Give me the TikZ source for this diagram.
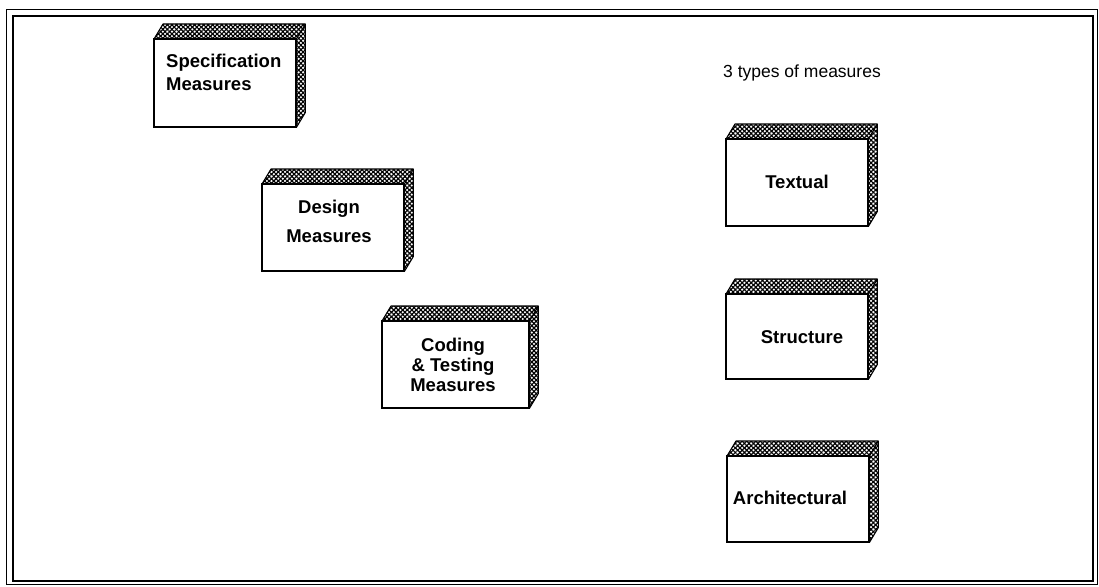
\documentclass[tikz,border=0pt]{standalone}
\usepackage{fontspec}
\setmainfont{Liberation Sans}
\usetikzlibrary{patterns.meta}
\begin{document}
\begin{tikzpicture}[x=1pt,y=-1pt,
  face/.style={draw=black, line width=1.4pt, fill=white, inner sep=0pt},
  hatchA/.style={pattern={Lines[angle=45,distance=3.2pt,line width=1.2pt]}},
  hatchB/.style={pattern={Lines[angle=-45,distance=3.2pt,line width=1.2pt]}},
  lbl/.style={font=\bfseries\fontsize{18.5}{21}\selectfont, inner sep=0pt, align=center},
  title/.style={font=\fontsize{17.5}{20}\selectfont, inner sep=0pt}]
\useasboundingbox (0,0) rectangle (1099,586);
% double frame
\draw[line width=1pt] (6,10) rectangle (1097,584);
\draw[line width=2pt] (13,16) rectangle (1093,581);

% front faces of the boxes (left x, top y, width, height)
\foreach \n/\x/\y/\w/\h in {spec/154/39/141/87, design/262/184/141/86, coding/382/321/146/86,
    textual/726/139/141/86, structure/726/294/141/84, arch/727/456/141/85}{
  \node[face, minimum width=\w pt, minimum height=\h pt, anchor=north west] (\n) at (\x,\y) {};
}
% hatched top and side faces
\foreach \n in {spec,design,coding,textual,structure,arch}{
  \foreach \s in {hatchA,hatchB}{
    \path[\s] (\n.north west) -- ++(9,-15) -- ([xshift=9pt,yshift=15pt]\n.north east) -- (\n.north east) -- cycle;
    \path[\s] (\n.north east) -- ++(9,-15) -- ([xshift=9pt,yshift=15pt]\n.south east) -- (\n.south east) -- cycle;
  }
  \draw[line width=1.1pt, line join=round] (\n.north west) -- ++(9,-15) -- ([xshift=9pt,yshift=15pt]\n.north east)
     -- ([xshift=9pt,yshift=15pt]\n.south east) -- (\n.south east);
  \draw[line width=1.1pt] ([xshift=9pt,yshift=15pt]\n.north east) -- (\n.north east);
  \draw[face, fill=none] (\n.north west) rectangle (\n.south east);
}

% labels
\node[lbl, align=left, anchor=west] (spec-l) at (166,72) {Specification\\[2pt]Measures};
\node[lbl] (design-l) at (329,221) {Design\\[8pt]Measures};
\node[lbl] (coding-l) at (453,365) {Coding\\[-1pt]\& Testing\\[-1pt]Measures};
\node[lbl] (textual-l) at (797,182) {Textual};
\node[lbl] (structure-l) at (802,337) {Structure};
\node[lbl] (arch-l) at (790,498) {Architectural};

\node[title] (head) at (802,73) {3 types of measures};
\end{tikzpicture}
\end{document}
